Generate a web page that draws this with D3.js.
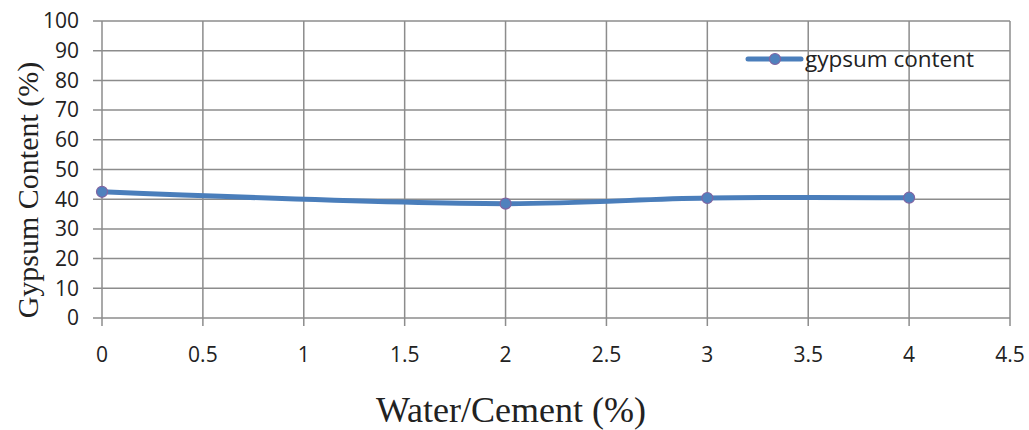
<!DOCTYPE html>
<html>
<head>
<meta charset="utf-8">
<script src="https://cdn.jsdelivr.net/npm/d3@7"></script>
<style>
  body { margin: 0; background: #fff; }
  svg { display: block; }
</style>
</head>
<body>
<svg id="chart" width="1029" height="430"></svg>
<script>
const waterCement = [0, 2, 3, 4];
const gypsumContent = [42.5, 38.5, 40.4, 40.5];
const xTicks = [0, 0.5, 1, 1.5, 2, 2.5, 3, 3.5, 4, 4.5];
const yTicks = [0, 10, 20, 30, 40, 50, 60, 70, 80, 90, 100];
const seriesName = 'gypsum content';

const margin = { top: 21, right: 19, bottom: 112, left: 102 };
const width = 1029, height = 430;
const chartW = width - margin.left - margin.right;
const chartH = height - margin.top - margin.bottom;

const svg = d3.select('#chart');
const g = svg.append('g').attr('transform', `translate(${margin.left},${margin.top})`);

const x = d3.scaleLinear().domain([0, 4.5]).range([0, chartW]);
const y = d3.scaleLinear().domain([0, 100]).range([chartH, 0]);

const gridColor = '#8c8c8c';
const tickFont = '"Open Sans", "Liberation Sans", sans-serif';
const serifFont = '"Liberation Serif", "DejaVu Serif", serif';

// horizontal gridlines, running a little past the left edge as ticks
g.selectAll('.hgrid').data(yTicks).enter().append('line')
  .attr('x1', -9).attr('x2', chartW)
  .attr('y1', d => y(d)).attr('y2', d => y(d))
  .attr('stroke', gridColor).attr('stroke-width', 1.5);

// vertical gridlines, running a little below the bottom as ticks
g.selectAll('.vgrid').data(xTicks).enter().append('line')
  .attr('x1', d => x(d)).attr('x2', d => x(d))
  .attr('y1', 0).attr('y2', chartH + 8)
  .attr('stroke', gridColor).attr('stroke-width', 1.5);

g.selectAll('.ylab').data(yTicks).enter().append('text')
  .attr('x', -23).attr('y', d => y(d)).attr('dy', '0.35em')
  .attr('text-anchor', 'end')
  .style('font-family', tickFont).style('font-size', '21px').attr('fill', '#222')
  .text(d => d);

g.selectAll('.xlab').data(xTicks).enter().append('text')
  .attr('x', d => x(d)).attr('y', chartH + 44)
  .attr('text-anchor', 'middle')
  .style('font-family', tickFont).style('font-size', '21px').attr('fill', '#222')
  .text(d => d);

const pts = waterCement.map((d, i) => ({ x: d, v: gypsumContent[i] }));
const line = d3.line().x(d => x(d.x)).y(d => y(d.v)).curve(d3.curveCatmullRom.alpha(0.5));

g.append('path').datum(pts)
  .attr('d', line)
  .attr('fill', 'none').attr('stroke', '#4a7ebb').attr('stroke-width', 5)
  .attr('stroke-linecap', 'round');

g.selectAll('.pt').data(pts).enter().append('circle')
  .attr('cx', d => x(d.x)).attr('cy', d => y(d.v)).attr('r', 5.5)
  .attr('fill', '#4f81bd').attr('stroke', '#8064a2').attr('stroke-width', 1.2);

// legend
const lg = svg.append('g').attr('transform', 'translate(748,59)');
lg.append('line').attr('x1', 0).attr('x2', 53).attr('y1', 0).attr('y2', 0)
  .attr('stroke', '#4a7ebb').attr('stroke-width', 5).attr('stroke-linecap', 'round');
lg.append('circle').attr('cx', 27).attr('cy', 0).attr('r', 5.5)
  .attr('fill', '#4f81bd').attr('stroke', '#8064a2').attr('stroke-width', 1.2);
lg.append('text').attr('x', 57).attr('y', 0).attr('dy', '0.35em')
  .style('font-family', tickFont).style('font-size', '22.5px').attr('fill', '#222')
  .text(seriesName);

// axis titles
svg.append('text')
  .attr('transform', 'translate(38,190) rotate(-90)')
  .attr('text-anchor', 'middle')
  .style('font-family', serifFont).style('font-size', '30px').attr('fill', '#222')
  .text('Gypsum Content (%)');

svg.append('text')
  .attr('x', 511).attr('y', 422)
  .attr('text-anchor', 'middle')
  .style('font-family', serifFont).style('font-size', '36px').attr('fill', '#222')
  .text('Water/Cement (%)');
</script>
</body>
</html>
